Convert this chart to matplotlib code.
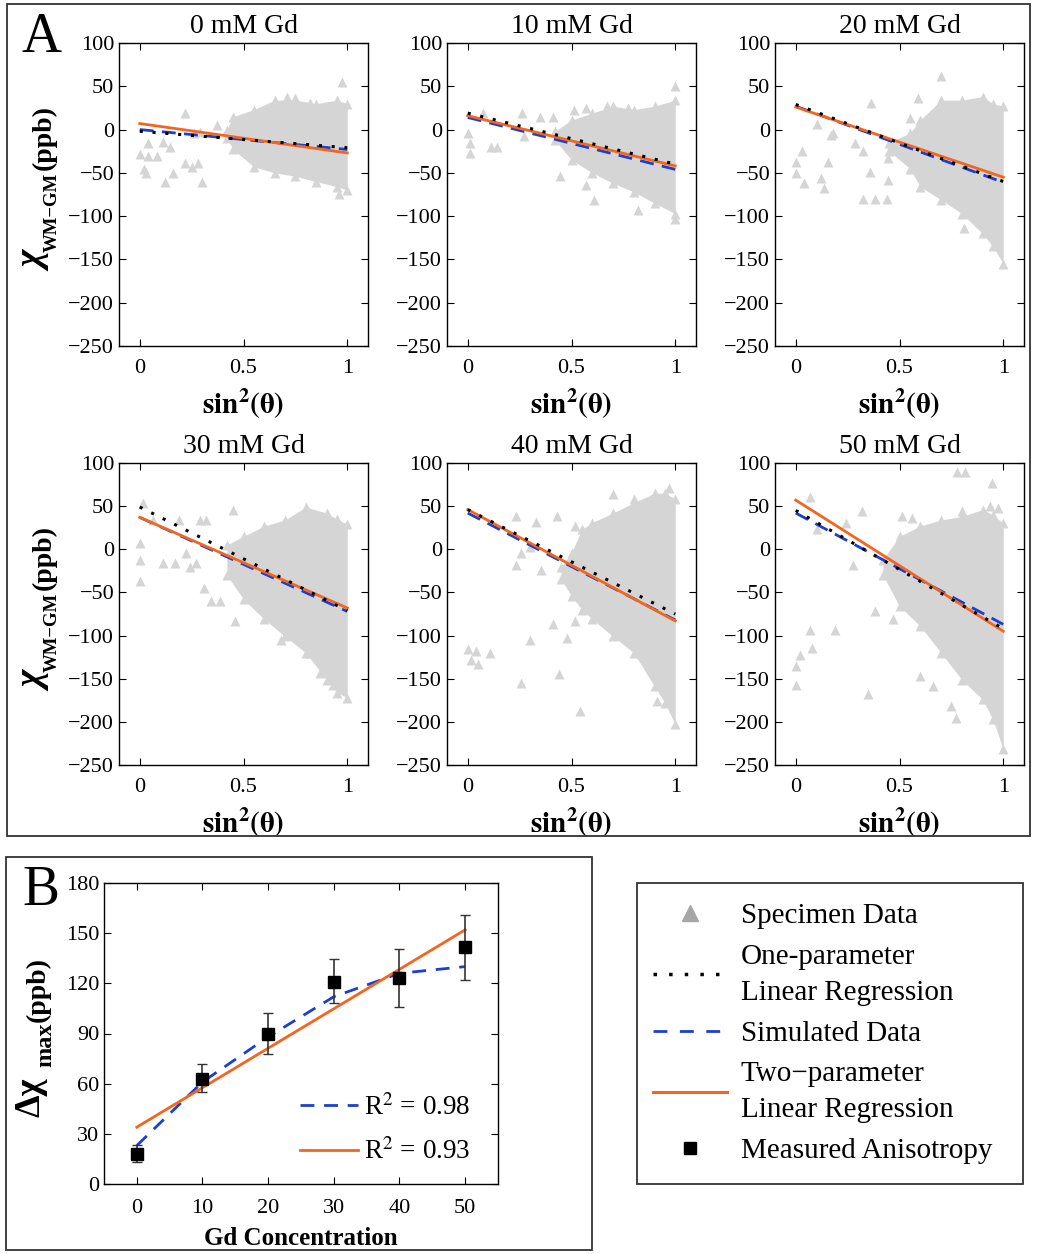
import matplotlib.pyplot as plt
from matplotlib.lines import Line2D
from matplotlib.patches import Rectangle

plt.rcParams['font.family'] = ['Liberation Serif', 'DejaVu Serif']
plt.rcParams['mathtext.fontset'] = 'stix'

# ---- panel A: fitted lines at sin^2(theta) = 0 and 1 ----
titles = ['0 mM Gd', '10 mM Gd', '20 mM Gd', '30 mM Gd', '40 mM Gd', '50 mM Gd']
fit_x = [0, 1]
one_param = [[-2, -21], [19, -40], [29, -60], [49, -71], [46, -75], [45, -92]]
simulated = [[0, -23], [14, -46], [27, -61], [37, -72], [42, -82], [42, -87]]
two_param = [[7, -27], [16, -42], [26, -55], [37, -68], [46, -83], [57, -95]]

# dense part of the specimen cloud (upper / lower edge)
cloud_x = [
    [0.42, 0.45, 0.55, 0.65, 0.75, 0.85, 0.95, 1.0],
    [0.42, 0.5, 0.6, 0.7, 0.8, 0.9, 1.0],
    [0.45, 0.55, 0.6, 0.7, 0.8, 0.9, 0.95, 1.0],
    [0.42, 0.5, 0.6, 0.7, 0.8, 0.9, 0.95, 1.0],
    [0.45, 0.5, 0.55, 0.6, 0.7, 0.8, 0.9, 0.95, 1.0],
    [0.42, 0.5, 0.6, 0.7, 0.8, 0.9, 0.95, 1.0],
]
cloud_hi = [
    [0, 15, 23, 34, 34, 30, 34, 30],
    [-2, 11, 19, 27, 23, 27, 34],
    [-15, -4, 11, 34, 34, 38, 30, 27],
    [5, 15, 27, 34, 49, 42, 35, 29],
    [-20, -4, 23, 31, 42, 54, 65, 65, 58],
    [-12, 15, 27, 34, 38, 46, 40, 30],
]
cloud_lo = [
    [-10, -23, -43, -50, -54, -60, -66, -70],
    [-12, -35, -50, -62, -72, -85, -97],
    [-25, -45, -66, -81, -97, -120, -135, -155],
    [-30, -58, -81, -101, -120, -151, -166, -172],
    [-35, -54, -70, -81, -101, -120, -159, -178, -203],
    [-30, -66, -89, -120, -151, -174, -197, -232],
]

# scattered specimen points outside the dense part
pts_x = [
    [0.22, 0.04, 0.0, 0.04, 0.085, 0.02, 0.03, 0.12, 0.30, 0.16, 0.22, 0.25, 0.28, 0.145,
     0.11, 0.29, 0.26, 0.37, 0.976, 0.71, 0.75, 0.82, 0.96],
    [0.0, 0.01, 0.01, 0.11, 0.14, 0.075, 0.26, 0.27, 0.35, 0.41, 0.445, 0.57, 0.61, 0.82,
     1.0, 1.0, 0.51, 0.57, 0.67, 0.77],
    [0.0, 0.0, 0.03, 0.04, 0.1, 0.12, 0.135, 0.155, 0.17, 0.18, 0.285, 0.325, 0.365, 0.357,
     0.325, 0.38, 0.44, 0.445, 0.445, 0.70, 0.59, 0.55, 0.815, 0.81],
    [0.0, 0.0, 0.0, 0.016, 0.064, 0.11, 0.17, 0.19, 0.225, 0.24, 0.29, 0.32, 0.345, 0.385,
     0.45, 0.457, 0.31, 0.27, 0.68, 0.82, 0.87, 0.93],
    [0.0, 0.016, 0.04, 0.048, 0.105, 0.234, 0.33, 0.43, 0.516, 0.234, 0.258, 0.30, 0.355,
     0.41, 0.30, 0.258, 0.44, 0.54, 0.48, 0.516, 0.70, 0.80, 0.97, 0.91],
    [0.0, 0.0, 0.02, 0.068, 0.076, 0.068, 0.10, 0.19, 0.244, 0.32, 0.35, 0.277, 0.38, 0.47,
     0.51, 0.558, 0.60, 0.66, 0.75, 0.77, 0.775, 0.815, 0.944, 0.80, 0.935, 0.976],
]
pts_y = [
    [19, -16, -28, -30, -30, -45, -50, -60, -60, -50, -39, -43, -39, -20,
     -14, -3, -4, 5, 55, 38, 36, 31, -74],
    [-4, -16, -27, -20, -20, 19, 19, -8, 15, 15, -54, -64, -81, -93,
     50, -103, 23, 25, 27, 25],
    [-37, -50, -25, -62, 7, -56, -68, -37, -6, -4, -16, -25, 31, -49,
     -80, -80, -80, -58, -33, 62, 36, 13, -91, -114],
    [7, -12, -37, 54, 34, -16, -16, 34, -4, -20, 34, 34, -60, -60,
     46, -83, -45, -16, -105, -120, -143, -157],
    [-115, -128, -118, -133, -120, 38, 32, 38, 27, -18, -4, 3, -24,
     -87, -105, -155, -145, -187, -103, -83, 64, 58, 71, -176],
    [-135, -157, -122, -93, -114, 61, 23, -93, 31, 44, -168, -18, -72, -81,
     38, 36, -147, -159, -182, -195, 89, 89, 77, 44, 50, 48],
]

# ---- panel B ----
gd_conc = [0, 10, 20, 30, 40, 50]
measured = [18, 63, 90, 121, 123, 142]
err_low = [13, 55, 78, 108, 106, 122]
err_high = [23.5, 72, 102, 134.5, 140.5, 161]
simulated_b = [23, 61, 88, 112, 126, 130]
two_param_x = [0, 50]
two_param_b = [34, 152]

gray = '#d5d5d5'
blue = '#1c3fd0'
orange = '#f2661f'

W, H = 1037, 1254
fig = plt.figure(figsize=(W / 100, H / 100), dpi=100)


def px_axes(l, t, r, b):
    return fig.add_axes([l / W, 1 - b / H, (r - l) / W, (b - t) / H])


def px_text(x, y, s, size, **kw):
    fig.text(x / W, 1 - y / H, s, fontsize=size, fontweight='bold', rotation=90,
             ha='center', va='center', **kw)


def style(ax, xpad=9):
    ax.tick_params(direction='in', top=True, right=True, labelsize=16, length=5, width=0.8)
    ax.tick_params(axis='x', pad=xpad)
    for s in ax.spines.values():
        s.set_linewidth(1.0)


lefts = [119, 447, 775]
rows = [(43, 346), (463, 765)]
for i in range(6):
    r, c = divmod(i, 3)
    ax = px_axes(lefts[c], rows[r][0], lefts[c] + 249, rows[r][1])
    ax.fill_between(cloud_x[i], cloud_lo[i], cloud_hi[i], color=gray, lw=0)
    ax.plot(cloud_x[i], cloud_hi[i], '^', color=gray, ms=6.5, mec='none')
    ax.plot(cloud_x[i], cloud_lo[i], '^', color=gray, ms=6.5, mec='none')
    ax.plot(pts_x[i], pts_y[i], '^', color=gray, ms=6.5, mec='none')
    ax.plot(fit_x, simulated[i], color=blue, lw=2, dashes=(5, 3))
    ax.plot(fit_x, two_param[i], color=orange, lw=2)
    ax.plot(fit_x, one_param[i], color='black', lw=2.2, dashes=(1, 3.2))
    ax.set_xlim(-0.1, 1.1)
    ax.set_ylim(-250, 100)
    ax.set_xticks([0, 0.5, 1])
    ax.set_xticklabels(['0', '0.5', '1'])
    ax.set_yticks(range(-250, 101, 50))
    style(ax)
    ax.set_title(titles[i], fontsize=20, pad=7)
    ax.set_xlabel(r'$\mathbf{sin}^{\mathbf{2}}\mathbf{(\theta)}$', fontsize=21, labelpad=7)
    if c == 0:
        dy = rows[r][0] - 43
        px_text(36, 262 + dy, '\u03c7', 27, style='italic')
        px_text(52, 212 + dy, 'WM\u2212GM', 13.5)
        px_text(44, 137 + dy, '(ppb)', 20)

# panel B
axb = px_axes(104, 883, 498, 1184)
yerr = [[m - lo for m, lo in zip(measured, err_low)],
        [hi - m for m, hi in zip(measured, err_high)]]
axb.plot(gd_conc, simulated_b, color=blue, lw=2, dashes=(5, 3.5), label='R$^2$ = 0.98')
axb.plot(two_param_x, two_param_b, color=orange, lw=2, label='R$^2$ = 0.93')
axb.errorbar(gd_conc, measured, yerr=yerr, fmt='s', color='black', ms=9,
             ecolor='#333333', elinewidth=1.2, capsize=3.5)
axb.set_xlim(-5, 55)
axb.set_ylim(0, 180)
axb.set_xticks(gd_conc)
axb.set_yticks(range(0, 181, 30))
style(axb, xpad=11)
axb.set_xlabel('Gd Concentration', fontsize=18, fontweight='bold', labelpad=6)
px_text(31, 1097, '\u0394\u03c7', 26)
px_text(46, 1045, 'max', 17.5)
px_text(38, 990, '(ppb)', 20)
axb.legend(loc='lower right', frameon=False, fontsize=19.5, handlelength=2.15,
           handletextpad=0.2, labelspacing=0.65, borderaxespad=0,
           bbox_to_anchor=(0.957, 0.027))

# legend box
axl = px_axes(637, 883, 1023, 1184)
axl.axis('off')
handles = [
    Line2D([], [], ls='none', marker='^', color='#a6a6a6', ms=12),
    Line2D([], [], color='black', lw=2.5, dashes=(1, 3.5)),
    Line2D([], [], color=blue, lw=2, dashes=(5, 4.5)),
    Line2D([], [], color=orange, lw=2.2),
    Line2D([], [], ls='none', marker='s', color='black', ms=9),
]
labels = ['Specimen Data', 'One-parameter\nLinear Regression', 'Simulated Data',
          'Two\u2212parameter\nLinear Regression', 'Measured Anisotropy']
leg = axl.legend(handles, labels, loc='center left', bbox_to_anchor=(0.0, 0.5),
                 frameon=False, fontsize=21, handlelength=2.55, handletextpad=0.45,
                 labelspacing=0.5, borderaxespad=0.15)
for t in leg.get_texts():
    t.set_linespacing(1.5)

# frames and panel letters
for l, t, r, b in [(7, 4, 1030, 836), (6, 857, 592, 1250), (637, 883, 1023, 1184)]:
    fig.add_artist(Rectangle((l / W, 1 - b / H), (r - l) / W, (b - t) / H,
                             transform=fig.transFigure, fill=False, ec='#333333', lw=1.3))
fig.text(22 / W, 1 - 52 / H, 'A', fontsize=40)
fig.text(22 / W, 1 - 905 / H, 'B', fontsize=40)

fig.savefig('out.png', dpi=100)
